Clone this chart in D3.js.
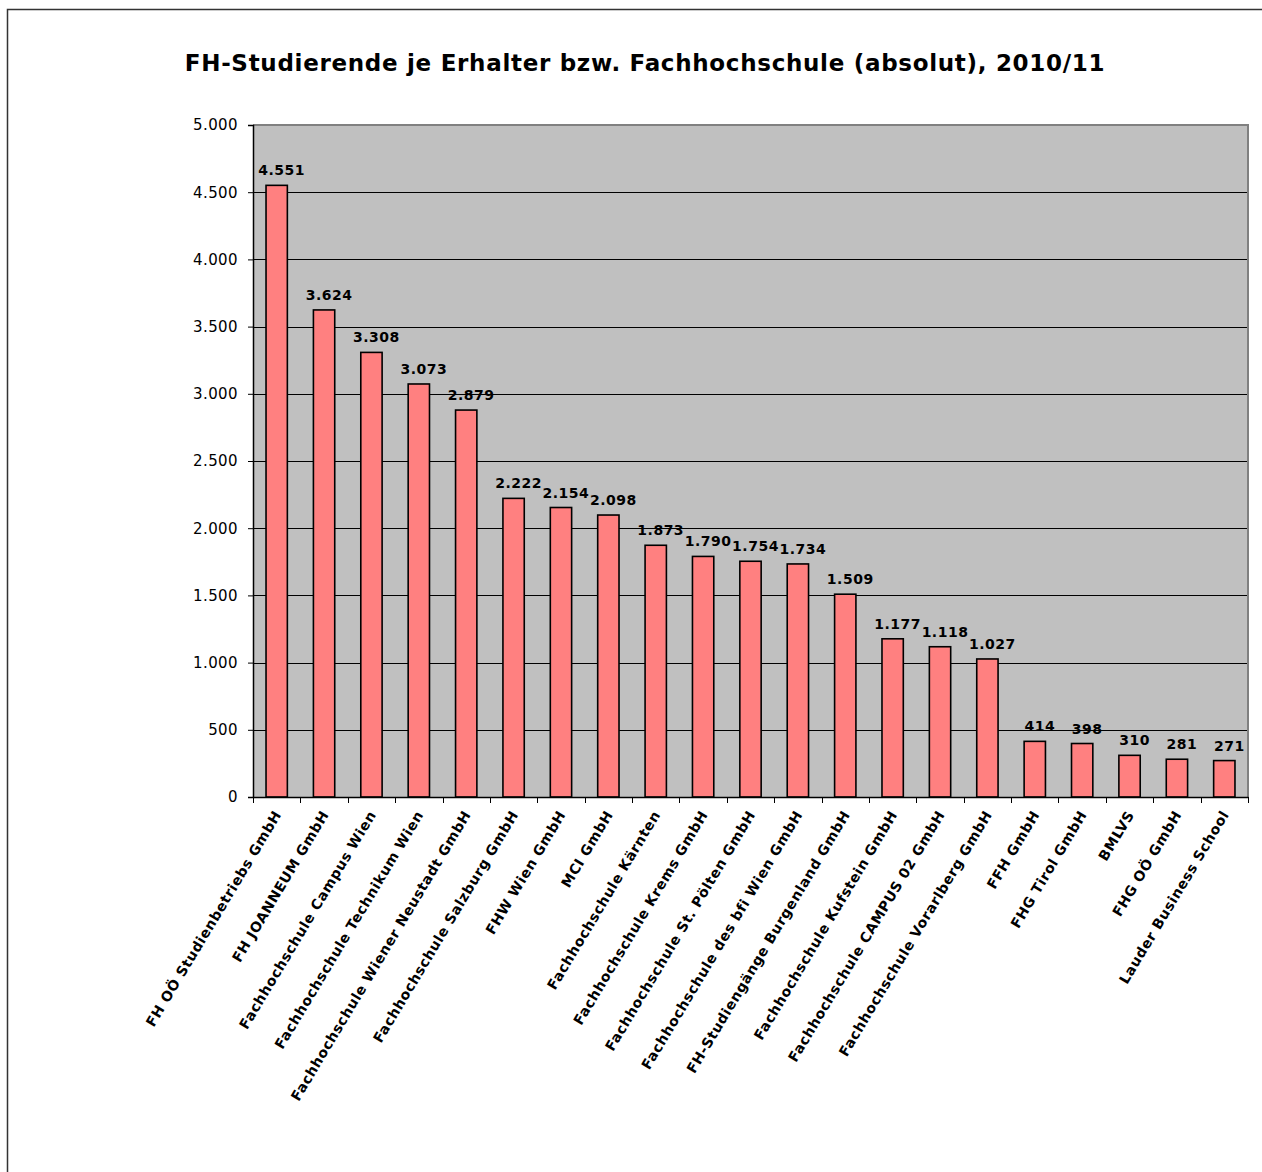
<!DOCTYPE html>
<html>
<head>
<meta charset="utf-8">
<script src="https://cdn.jsdelivr.net/npm/d3@7/dist/d3.min.js"></script>
<style>
  html, body { margin: 0; padding: 0; background: #fff; }
  svg { display: block; }
</style>
</head>
<body>
<svg id="chart" width="1262" height="1172"></svg>
<script>
const titleText = "FH-Studierende je Erhalter bzw. Fachhochschule (absolut), 2010/11";
const categories = [
  "FH OÖ Studienbetriebs GmbH",
  "FH JOANNEUM GmbH",
  "Fachhochschule Campus Wien",
  "Fachhochschule Technikum Wien",
  "Fachhochschule Wiener Neustadt GmbH",
  "Fachhochschule Salzburg GmbH",
  "FHW Wien GmbH",
  "MCI GmbH",
  "Fachhochschule Kärnten",
  "Fachhochschule Krems GmbH",
  "Fachhochschule St. Pölten GmbH",
  "Fachhochschule des bfi Wien GmbH",
  "FH-Studiengänge Burgenland GmbH",
  "Fachhochschule Kufstein GmbH",
  "Fachhochschule CAMPUS 02 GmbH",
  "Fachhochschule Vorarlberg GmbH",
  "FFH GmbH",
  "FHG Tirol GmbH",
  "BMLVS",
  "FHG OÖ GmbH",
  "Lauder Business School"
];
const values = [4551, 3624, 3308, 3073, 2879, 2222, 2154, 2098, 1873, 1790, 1754, 1734, 1509, 1177, 1118, 1027, 414, 398, 310, 281, 271];
const yTicks = [0, 500, 1000, 1500, 2000, 2500, 3000, 3500, 4000, 4500, 5000];

const fmt = v => d3.format(",")(v).replace(/,/g, ".");

const svg = d3.select("#chart");
const font = "'DejaVu Sans', Verdana, sans-serif";

// outer frame (left and top edges)
svg.append("path")
  .attr("d", "M7.5,1172 L7.5,9.5 L1262,9.5")
  .attr("fill", "none").attr("stroke", "#333").attr("stroke-width", 1.5);

const plot = { left: 253, right: 1248, top: 125, bottom: 797 };

const x = d3.scaleBand().domain(categories).range([plot.left, plot.right]).paddingInner(0).paddingOuter(0);
const y = d3.scaleLinear().domain([0, 5000]).range([plot.bottom, plot.top]);

// title
svg.append("text")
  .attr("x", 645).attr("y", 71)
  .attr("text-anchor", "middle")
  .attr("font-family", font).attr("font-weight", "bold").attr("font-size", 23)
  .attr("letter-spacing", 0.7)
  .attr("fill", "#000")
  .text(titleText);

// plot background
svg.append("rect")
  .attr("x", plot.left).attr("y", plot.top)
  .attr("width", plot.right - plot.left).attr("height", plot.bottom - plot.top)
  .attr("fill", "#C0C0C0");

// gridlines
svg.append("g").selectAll("line")
  .data(yTicks.filter(t => t > 0 && t < 5000))
  .join("line")
  .attr("x1", plot.left).attr("x2", plot.right)
  .attr("y1", d => Math.round(y(d)) + 0.5).attr("y2", d => Math.round(y(d)) + 0.5)
  .attr("stroke", "#000").attr("stroke-width", 1);

// top and right border (gray)
svg.append("path")
  .attr("d", `M${plot.left},${plot.top} L${plot.right},${plot.top} L${plot.right},${plot.bottom}`)
  .attr("fill", "none").attr("stroke", "#808080").attr("stroke-width", 2);

// bars
const barW = x.bandwidth() * 0.45;
svg.append("g").selectAll("rect")
  .data(values)
  .join("rect")
  .attr("x", (d, i) => x(categories[i]) + (x.bandwidth() - barW) / 2)
  .attr("y", d => y(d))
  .attr("width", barW)
  .attr("height", d => y(0) - y(d))
  .attr("fill", "#FF8080")
  .attr("stroke", "#000").attr("stroke-width", 1.6);

// value labels
svg.append("g").selectAll("text")
  .data(values)
  .join("text")
  .attr("x", (d, i) => x(categories[i]) + x.bandwidth() / 2 + 5)
  .attr("y", d => y(d) - 10)
  .attr("text-anchor", "middle")
  .attr("font-family", font).attr("font-weight", "bold").attr("font-size", 14)
  .attr("letter-spacing", 0.5)
  .attr("fill", "#000")
  .text(d => fmt(d));

// y axis
const yAxis = d3.axisLeft(y).tickValues(yTicks).tickSize(5).tickPadding(10).tickFormat(fmt);
const gy = svg.append("g").attr("transform", `translate(${plot.left},0)`).call(yAxis);
gy.select(".domain").attr("stroke", "#000").attr("stroke-width", 1.5);
gy.selectAll(".tick line").attr("stroke", "#000");
gy.selectAll(".tick text").attr("font-family", font).attr("font-size", 15).attr("letter-spacing", 0.4).attr("fill", "#000");

// x axis
const xAxis = d3.axisBottom(x).tickSize(0).tickFormat("");
const gx = svg.append("g").attr("transform", `translate(0,${plot.bottom})`).call(xAxis);
gx.select(".domain").attr("stroke", "#000").attr("stroke-width", 1.5);
// ticks between categories
const boundaries = categories.map(c => x(c)).concat([plot.right]);
svg.append("g").selectAll("line")
  .data(boundaries)
  .join("line")
  .attr("x1", d => Math.round(d) + 0.5).attr("x2", d => Math.round(d) + 0.5)
  .attr("y1", plot.bottom).attr("y2", plot.bottom + 6)
  .attr("stroke", "#000");

// category labels
svg.append("g").selectAll("text")
  .data(categories)
  .join("text")
  .attr("transform", d => `translate(${x(d) + x.bandwidth() / 2 + 1},${plot.bottom + 15}) rotate(-59)`)
  .attr("text-anchor", "end")
  .attr("dy", "0.35em")
  .attr("font-family", font).attr("font-weight", "bold").attr("font-size", 14)
  .attr("letter-spacing", 0.55)
  .attr("fill", "#000")
  .text(d => d);
</script>
</body>
</html>
